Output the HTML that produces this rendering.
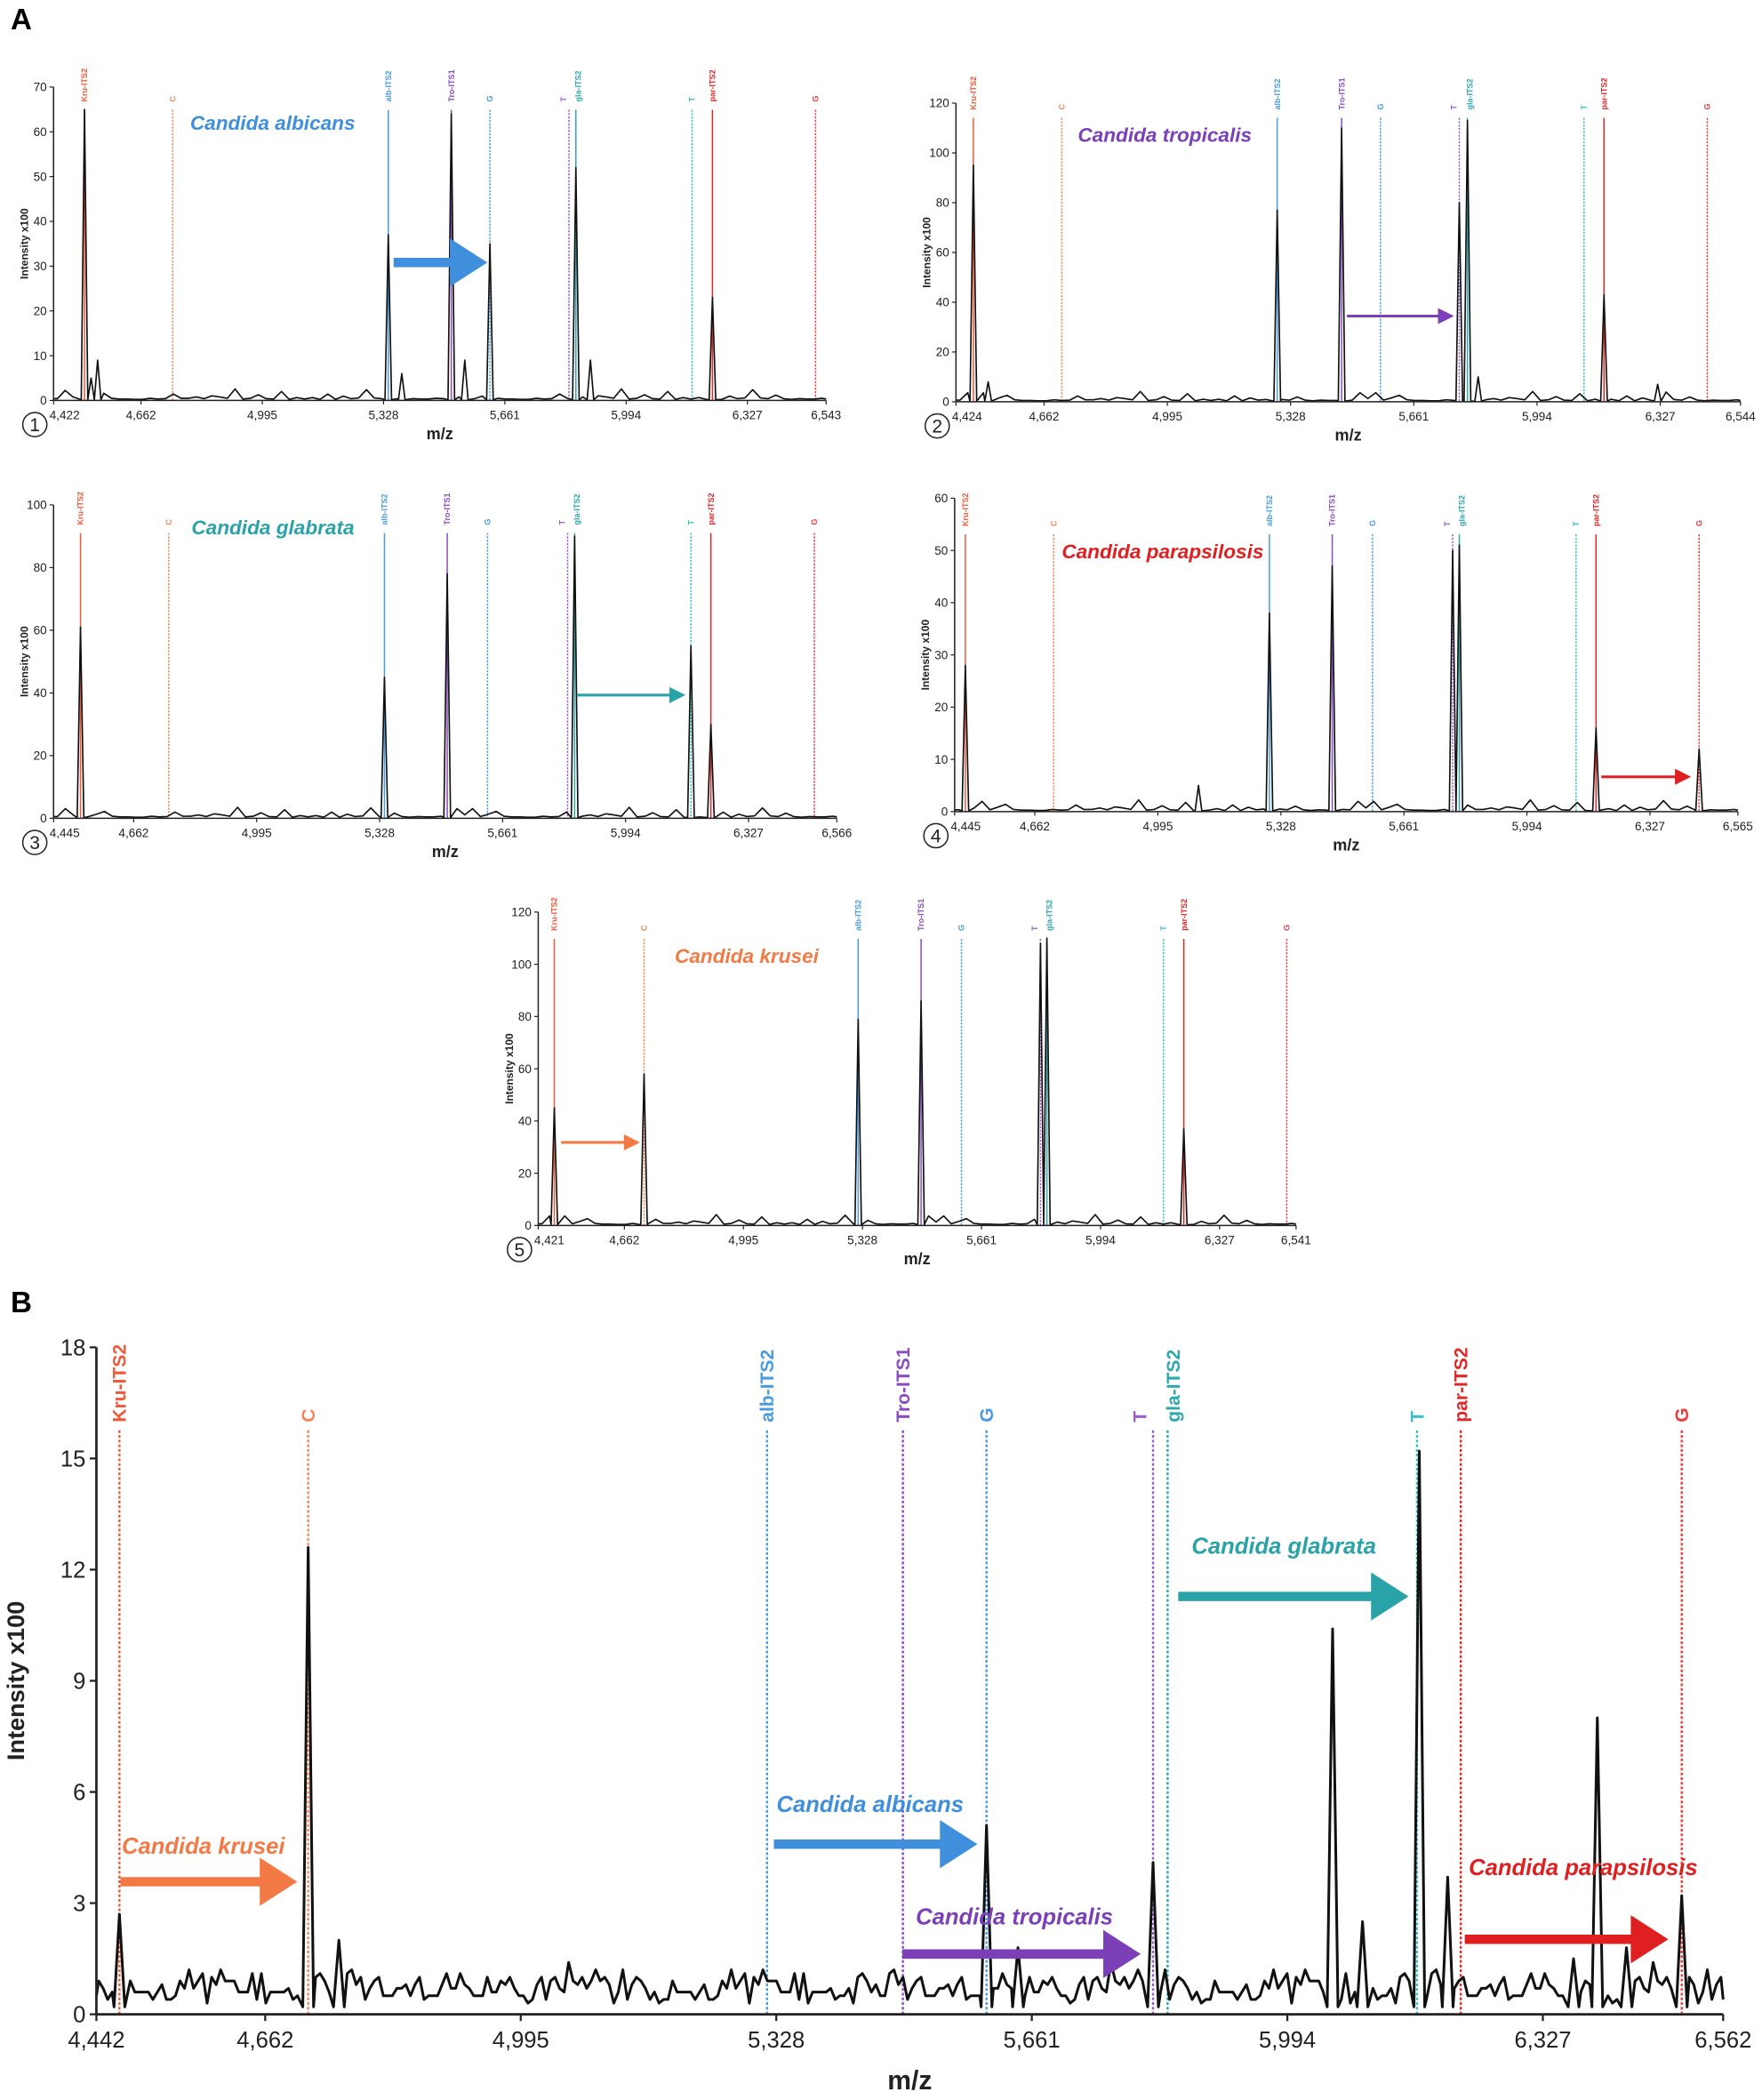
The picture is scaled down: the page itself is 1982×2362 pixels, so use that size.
<!DOCTYPE html>
<html><head><meta charset="utf-8">
<style>
html,body{margin:0;padding:0;background:#fff;}
svg{display:block;font-family:"Liberation Sans",sans-serif;}
</style></head>
<body>
<svg id="fig" width="1982" height="2362" viewBox="0 0 1316 1568" preserveAspectRatio="none" xmlns="http://www.w3.org/2000/svg">
<text x="8" y="22" font-size="22" font-weight="bold">A</text>
<text x="8" y="980" font-size="22" font-weight="bold">B</text>
</svg>
<script>
// shared marker metadata
const markerLabels = ["Kru-ITS2","C","alb-ITS2","Tro-ITS1","G","T","gla-ITS2","T","par-ITS2","G"];
const markerColors = ["#ee5a3a","#f2875a","#4a9be0","#8a4cc0","#4a9be0","#9b5cd0","#2fa8ad","#38c0c8","#e02828","#e84040"];
const markerDashedA = [false,true,false,false,true,true,false,true,false,true];

// panel 1 (C. albicans)
const p1Ticks = [4422,4662,4995,5328,5661,5994,6327,6543];
const p1Markers = [4507,4749,5341,5514,5620,5837,5856,6175,6231,6514];
const p1PeakMz = [4507,4525,4543,5341,5378,5514,5551,5620,5856,5896,6231];
const p1PeakH = [65,5,9,37,6,64,9,35,52,9,23];
// panel 2 (C. tropicalis)
const p2Ticks = [4424,4662,4995,5328,5661,5994,6327,6544];
const p2Markers = [4471,4710,5292,5466,5571,5784,5806,6121,6175,6454];
const p2PeakMz = [4471,4511,5292,5466,5784,5806,5835,6175,6320];
const p2PeakH = [95,8,77,110,80,113,10,43,7];
// panel 3 (C. glabrata)
const p3Ticks = [4445,4662,4995,5328,5661,5994,6327,6566];
const p3Markers = [4518,4757,5341,5511,5620,5837,5856,6171,6225,6505];
const p3PeakMz = [4518,5341,5511,5856,6171,6225];
const p3PeakH = [61,45,78,90,55,30];
// panel 4 (C. parapsilosis)
const p4Ticks = [4445,4662,4995,5328,5661,5994,6327,6565];
const p4Markers = [4474,4713,5297,5467,5576,5793,5811,6127,6181,6460];
const p4PeakMz = [4474,5105,5297,5467,5793,5811,6181,6460];
const p4PeakH = [28,5,38,47,50,51,16,12];
// panel 5 (C. krusei)
const p5Ticks = [4421,4662,4995,5328,5661,5994,6327,6541];
const p5Markers = [4466,4717,5316,5492,5605,5826,5844,6170,6227,6515];
const p5PeakMz = [4466,4717,5316,5492,5826,5844,6227];
const p5PeakH = [45,58,79,86,108,110,37];
// panel B (mixture)
const pBTicks = [4442,4662,4995,5328,5661,5994,6327,6562];
const pBMarkers = [4472,4718,5316,5493,5602,5819,5838,6163,6220,6508];
const pBPeakMz = [4472,4718,4758,5602,5643,5819,6053,6092,6166,6203,6367,6398,6436,6508];
const pBPeakH = [2.7,12.6,2.0,5.1,1.8,4.1,10.4,2.5,15.2,3.7,1.5,8.0,1.8,3.2];

// baseline noise (A in units of a 70-scale panel; B absolute)
const noiseA = [0.5,1.5,0.3,2.5,0.6,1.8,0.4,2.8,0.5,1.2,0.3,3.2,0.6,0.4,1.0,0.3,0.5,0.8,0.4,0.6,0.3,2.8,0.5,0.7,0.4,0.6,1.0,0.3,0.5,0.4,3.0,0.8,1.6,0.5,0.6,1.2,0.4,0.7,0.3,0.5,1.3,0.4,2.0,0.6,0.5,1.8,0.4,1.0,0.5,0.6];
const noiseB = [0.9,0.6,1.0,0.5,0.8,0.4,0.9,0.7,1.4,0.6,0.8,0.5,1.1,0.7,0.4,0.9,0.6,1.0,0.5,0.3,1.2,0.6,0.8,0.9,0.4,1.1,0.6,0.7,0.3,1.0,0.8,0.5,1.2,0.6,0.9,0.4,0.7,1.0,0.5,0.8,0.6,1.1,0.4,0.9,0.7,0.5,1.0,0.6,0.3,0.9,1.2,0.5,0.8,0.4,0.7,1.0,0.6,0.9,0.5,1.1,0.7,0.4,0.8,0.6,1.0,0.3,0.7,0.9,0.5,1.2,0.6,0.8,0.4,0.7,1.0,0.5,0.9,0.6,0.3,0.8,1.1,0.5,0.7,0.9,0.4,0.6,1.0,0.8,0.5,0.3,0.9,0.6,1.2,0.4,0.7,0.5,1.0,0.6,0.8,0.4,0.9,0.5,0.7,1.1,0.6,0.4,0.8,1.0,0.5,0.7,0.9,0.6,0.4,1.0,0.7,0.5,0.8,0.6,1.1,0.5];

const NS = "http://www.w3.org/2000/svg";
const svg = document.getElementById('fig');
function mk(tag, attrs, parent){
  const e = document.createElementNS(NS, tag);
  for (const k in attrs) e.setAttribute(k, attrs[k]);
  (parent||svg).appendChild(e);
  return e;
}

function drawPanel(cfg){
  const g = mk('g', {});
  
  
  const xmin = cfg.ticks[0], xmax = cfg.ticks[cfg.ticks.length-1];
  const X = v => cfg.x0 + (v - xmin) / (xmax - xmin) * (cfg.x1 - cfg.x0);
  const Y = v => cfg.yb - v / cfg.ymax * (cfg.yb - cfg.yt);
  const big = cfg.big;

  cfg.markers.forEach((m, i) => {
    const x = X(m);
    const ln = mk('line', {x1:x, x2:x, y1:cfg.lineTop, y2:cfg.yb, stroke:markerColors[i], 'stroke-width': big?1.6:1,
      'stroke-dasharray': (big || markerDashedA[i]) ? (big?'2,1.5':'1.5,1') : 'none'}, g);
    
    
    const fs = big ? 14 : 6;
    let lx = x + fs*0.35;
    if (i === 5) lx -= fs*0.7;
    if (i === 6) lx += fs*0.3;
    const ly = cfg.lineTop - 6;
    const t = mk('text', {x:lx, y:ly, 'font-size':fs, 'font-weight':'bold', fill:markerColors[i],
      transform:`rotate(-90 ${lx} ${ly})`}, g);
    t.textContent = markerLabels[i];
    
    
  });

  const noise = cfg.noise;
  const w = cfg.peakW;
  const pts = [];
  for (let i = 0; i < noise.length * cfg.noiseRep; i++) {
    const mz = xmin + (i + 0.5) / (noise.length * cfg.noiseRep) * (xmax - xmin);
    const near = cfg.peakMz.some(p => Math.abs(p - mz) < w*1.2);
    if (!near) pts.push([mz, noise[(i*7) % noise.length] * cfg.noiseScale]);
  }
  cfg.peakMz.forEach((p, i) => {
    pts.push([p - w, 0.2*cfg.noiseScale]);
    pts.push([p, cfg.peakH[i]]);
    pts.push([p + w, 0.2*cfg.noiseScale]);
  });
  pts.sort((a,b)=>a[0]-b[0]);
  pts.unshift([xmin, 0.5*cfg.noiseScale]); pts.push([xmax, 0.4*cfg.noiseScale]);
  const d = pts.map((p,i)=>(i?'L':'M') + X(p[0]).toFixed(2) + ',' + Y(p[1]).toFixed(2)).join('');
  const path = mk('path', {d, fill:'none', stroke:'#111', 'stroke-width': big?2:1.1, 'stroke-linejoin':'round'}, g);
  
  

  const ax = mk('path', {d:`M${cfg.x0},${cfg.yt}L${cfg.x0},${cfg.yb}L${cfg.x1},${cfg.yb}`, fill:'none', stroke:'#222', 'stroke-width': big?1.8:1}, g);
  
  
  const tfs = big ? 17 : 9;
  for (let v = 0; v <= cfg.ymax + 1e-9; v += cfg.ystep) {
    const y = Y(v);
    mk('line', {x1:cfg.x0 - (big?5:3), x2:cfg.x0, y1:y, y2:y, stroke:'#222', 'stroke-width': big?1.5:0.8}, g);
    const t = mk('text', {x:cfg.x0 - (big?8:5), y:y + tfs*0.35, 'font-size':tfs, 'text-anchor':'end', fill:'#222'}, g);
    t.textContent = String(Math.round(v));
    
    
  }
  cfg.ticks.forEach((v, i) => {
    const x = X(v);
    mk('line', {x1:x, x2:x, y1:cfg.yb, y2:cfg.yb + (big?5:3), stroke:'#222', 'stroke-width': big?1.5:0.8}, g);
    const first = (i === 0 && !big);
    const t = mk('text', {x: first ? x - 3 : x, y:cfg.yb + (big?25:14), 'font-size':tfs, 'text-anchor': first ? 'start' : 'middle', fill:'#222'}, g);
    t.textContent = v.toLocaleString('en-US');
    
    
  });
  const xl = mk('text', {x:(cfg.x0+cfg.x1)/2, y:cfg.yb + (big?56:29), 'font-size': big?20:12, 'font-weight':'bold', 'text-anchor':'middle', fill:'#222'}, g);
  xl.textContent = 'm/z';
  
  
  const ylx = big ? 18 : cfg.x0 - 19, yly = (cfg.yt + cfg.yb)/2;
  const yl = mk('text', {x:ylx, y:yly, 'font-size': big?18:8, 'font-weight': 'bold', 'text-anchor':'middle', fill:'#222', transform:`rotate(-90 ${ylx} ${yly})`}, g);
  yl.textContent = 'Intensity x100';
  
  

  if (cfg.num) {
    const cx = cfg.x0 - 14, cy = cfg.yb + 18;
    const c = mk('circle', {cx, cy, r:9, fill:'#fff', stroke:'#222', 'stroke-width':1}, g);
    
    
    const t = mk('text', {x:cx, y:cy+5, 'font-size':14, 'text-anchor':'middle', fill:'#222'}, g);
    t.textContent = cfg.num;
    
    
  }

  cfg.notes.forEach(n => {
    const t = mk('text', {x:n.tx, y:n.ty, 'font-size': big?17:15, 'font-weight':'bold', 'font-style':'italic', fill:n.color}, g);
    t.textContent = n.text;
    
    
    if (n.ax1 !== undefined) {
      const sw = n.thick ? 7 : 2, hl = n.thick ? 28 : 12, hw = n.thick ? 18 : 6;
      const a = mk('path', {d:`M${n.ax1},${n.ay-sw/2}L${n.ax2-hl},${n.ay-sw/2}L${n.ax2-hl},${n.ay-hw}L${n.ax2},${n.ay}L${n.ax2-hl},${n.ay+hw}L${n.ax2-hl},${n.ay+sw/2}L${n.ax1},${n.ay+sw/2}Z`, fill:n.color}, g);
      
      
    }
  });
}

drawPanel({name:'panel-1-albicans', x0:40, x1:617, yb:299, yt:65, ymax:70, ystep:10, lineTop:82, ticks:p1Ticks, markers:p1Markers, peakMz:p1PeakMz, peakH:p1PeakH, peakW:9, noise:noiseA, noiseRep:2, noiseScale:0.8, num:'1',
  notes:[{text:'Candida albicans', color:'#3f8fdc', tx:142, ty:97, ax1:294, ax2:364, ay:196, thick:true}]});
drawPanel({name:'panel-2-tropicalis', x0:714, x1:1300, yb:300, yt:77, ymax:120, ystep:20, lineTop:88, ticks:p2Ticks, markers:p2Markers, peakMz:p2PeakMz, peakH:p2PeakH, peakW:9, noise:noiseA, noiseRep:2, noiseScale:1.3, num:'2',
  notes:[{text:'Candida tropicalis', color:'#7b3fb8', tx:805, ty:106, ax1:1006, ax2:1086, ay:236}]});
drawPanel({name:'panel-3-glabrata', x0:40, x1:625, yb:611, yt:377, ymax:100, ystep:20, lineTop:398, ticks:p3Ticks, markers:p3Markers, peakMz:p3PeakMz, peakH:p3PeakH, peakW:9, noise:noiseA, noiseRep:2, noiseScale:1.1, num:'3',
  notes:[{text:'Candida glabrata', color:'#2aa3a8', tx:143, ty:399, ax1:431, ax2:512, ay:519}]});
drawPanel({name:'panel-4-parapsilosis', x0:713, x1:1298, yb:606, yt:372, ymax:60, ystep:10, lineTop:399, ticks:p4Ticks, markers:p4Markers, peakMz:p4PeakMz, peakH:p4PeakH, peakW:9, noise:noiseA, noiseRep:2, noiseScale:0.7, num:'4',
  notes:[{text:'Candida parapsilosis', color:'#e02020', tx:793, ty:417, ax1:1196, ax2:1263, ay:580}]});
drawPanel({name:'panel-5-krusei', x0:402, x1:968, yb:915, yt:681, ymax:120, ystep:20, lineTop:701, ticks:p5Ticks, markers:p5Markers, peakMz:p5PeakMz, peakH:p5PeakH, peakW:9, noise:noiseA, noiseRep:2, noiseScale:1.3, num:'5',
  notes:[{text:'Candida krusei', color:'#f47a45', tx:504, ty:719, ax1:419, ax2:478, ay:853}]});
drawPanel({name:'panel-b-mixture', big:true, x0:72, x1:1287, yb:1504, yt:1006, ymax:18, ystep:3, lineTop:1068, ticks:pBTicks, markers:pBMarkers, peakMz:pBPeakMz, peakH:pBPeakH, peakW:7, noise:noiseB, noiseRep:3, noiseScale:1,
  notes:[
    {text:'Candida krusei', color:'#f47a45', tx:91, ty:1384, ax1:90, ax2:222, ay:1405, thick:true},
    {text:'Candida albicans', color:'#3f8fdc', tx:580, ty:1353, ax1:578, ax2:730, ay:1377, thick:true},
    {text:'Candida tropicalis', color:'#7b3fb8', tx:684, ty:1437, ax1:674, ax2:852, ay:1459, thick:true},
    {text:'Candida glabrata', color:'#2aa3a8', tx:890, ty:1160, ax1:880, ax2:1052, ay:1192, thick:true},
    {text:'Candida parapsilosis', color:'#e02020', tx:1097, ty:1400, ax1:1094, ax2:1246, ay:1448, thick:true}
  ]});
</script>
</body></html>
